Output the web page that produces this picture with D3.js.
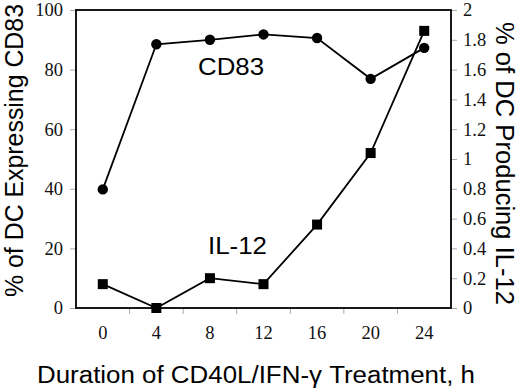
<!DOCTYPE html>
<html>
<head>
<meta charset="utf-8">
<script src="https://cdnjs.cloudflare.com/ajax/libs/d3/7.8.5/d3.min.js"></script>
<style>
html,body{margin:0;padding:0;background:#fff;}
svg{display:block;}
</style>
</head>
<body>
<svg id="chart" width="520" height="389"></svg>
<script>
const hours = ["0","4","8","12","16","20","24"];
const cd83 = [39.8, 88.5, 90.0, 91.8, 90.6, 76.9, 87.3];
const il12 = [0.16, 0.0, 0.20, 0.16, 0.56, 1.04, 1.86];
const leftTicks = [0,20,40,60,80,100];
const rightTicks = [0,0.2,0.4,0.6,0.8,1,1.2,1.4,1.6,1.8,2];

const svg = d3.select("#chart");
const L = 76, R = 451, T = 10, B = 308;

const x = d3.scaleBand().domain(hours).range([L, R]).padding(0);
const yL = d3.scaleLinear().domain([0,100]).range([B, T]);
const yR = d3.scaleLinear().domain([0,2]).range([B, T]);
const cx = d => x(d) + x.bandwidth()/2;

const serif = "'Liberation Serif','Times New Roman',serif";
const sans = "'Liberation Sans',Arial,sans-serif";

// Left axis
const gL = svg.append("g").attr("transform", `translate(${L},0)`)
  .call(d3.axisLeft(yL).tickValues(leftTicks).tickSize(6).tickPadding(7).tickFormat(d3.format("d")));
// Right axis
const gR = svg.append("g").attr("transform", `translate(${R},0)`)
  .call(d3.axisRight(yR).tickValues(rightTicks).tickSize(6).tickPadding(6).tickFormat(d => d3.format("")(+d.toFixed(1))));
// Bottom axis labels
const gB = svg.append("g").attr("transform", `translate(0,${B})`)
  .call(d3.axisBottom(x).tickSize(0).tickPadding(18));
[gL,gR,gB].forEach(g => {
  g.select(".domain").remove();
  g.selectAll(".tick line").attr("stroke", "#aaa").attr("stroke-width", 1);
  g.selectAll(".tick text").attr("font-family", serif).attr("font-size", 18.5).attr("fill", "#111");
});
// bottom category boundary tick marks
svg.append("g").selectAll("line")
  .data(hours.slice(1))
  .join("line")
  .attr("x1", d => x(d)).attr("x2", d => x(d))
  .attr("y1", B).attr("y2", B + 6)
  .attr("stroke", "#aaa").attr("stroke-width", 1);

// frame
svg.append("rect").attr("x", L).attr("y", T).attr("width", R - L).attr("height", B - T)
  .attr("fill", "none").attr("stroke", "#000").attr("stroke-width", 1.8);

// CD83 line
svg.append("path").datum(hours.map((h,i)=>[cx(h), yL(cd83[i])]))
  .attr("d", d3.line()).attr("fill","none").attr("stroke","#000").attr("stroke-width",1.8);
svg.append("g").selectAll("circle").data(hours).join("circle")
  .attr("cx", d => cx(d)).attr("cy", (d,i) => yL(cd83[i])).attr("r", 5.2).attr("fill", "#000");

// IL-12 line
svg.append("path").datum(hours.map((h,i)=>[cx(h), yR(il12[i])]))
  .attr("d", d3.line()).attr("fill","none").attr("stroke","#000").attr("stroke-width",1.8);
const s = 10;
svg.append("g").selectAll("rect").data(hours).join("rect")
  .attr("x", d => cx(d) - s/2).attr("y", (d,i) => yR(il12[i]) - s/2)
  .attr("width", s).attr("height", s).attr("fill", "#000");

// series labels
svg.append("text").attr("x", 198).attr("y", 75)
  .attr("textLength", 66).attr("lengthAdjust", "spacingAndGlyphs")
  .attr("font-family", sans).attr("font-size", 24.5).text("CD83");
svg.append("text").attr("x", 208).attr("y", 254)
  .attr("textLength", 59).attr("lengthAdjust", "spacingAndGlyphs")
  .attr("font-family", sans).attr("font-size", 24.5).text("IL-12");

// axis titles
svg.append("text").attr("transform", "translate(23,297) scale(1.05,1) rotate(-90)")
  .attr("textLength", 293).attr("lengthAdjust", "spacingAndGlyphs")
  .attr("font-family", sans).attr("font-size", 24).text("% of DC Expressing CD83");
svg.append("text").attr("transform", "translate(496,22) scale(1.05,1) rotate(90)")
  .attr("textLength", 283).attr("lengthAdjust", "spacingAndGlyphs")
  .attr("font-family", sans).attr("font-size", 24).text("% of DC Producing IL-12");
svg.append("text").attr("x", 37).attr("y", 383)
  .attr("textLength", 438).attr("lengthAdjust", "spacingAndGlyphs")
  .attr("font-family", sans).attr("font-size", 23.5).text("Duration of CD40L/IFN-\u03B3 Treatment, h");
</script>
</body>
</html>
